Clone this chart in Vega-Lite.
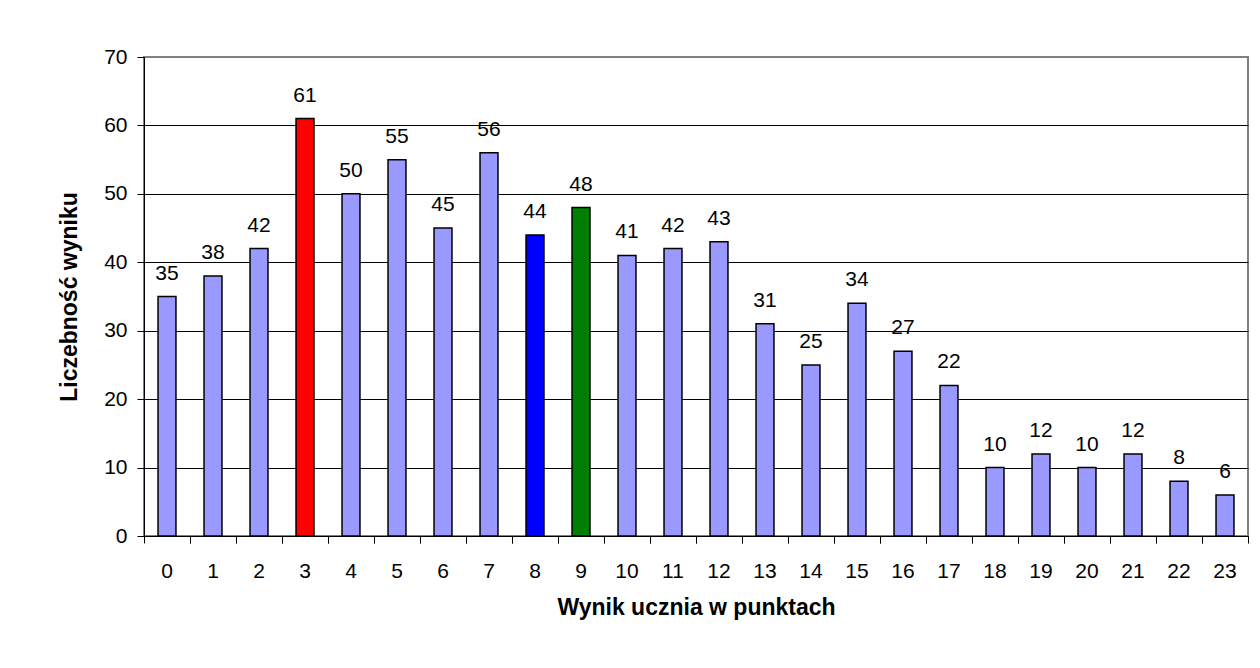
{
  "$schema": "https://vega.github.io/schema/vega-lite/v6.json",
  "width": 1104,
  "height": 479,
  "autosize": {"type": "none"},
  "padding": {"left": 144, "top": 57, "right": 12, "bottom": 132},
  "background": "white",
  "config": {
    "font": "Liberation Sans",
    "view": {"stroke": "#808080", "strokeWidth": 2},
    "axis": {"labelFont": "Liberation Sans", "titleFont": "Liberation Sans", "labelColor": "black", "titleColor": "black"}
  },
  "data": {
    "values": [
      {"wynik": 0, "liczba": 35},
      {"wynik": 1, "liczba": 38},
      {"wynik": 2, "liczba": 42},
      {"wynik": 3, "liczba": 61},
      {"wynik": 4, "liczba": 50},
      {"wynik": 5, "liczba": 55},
      {"wynik": 6, "liczba": 45},
      {"wynik": 7, "liczba": 56},
      {"wynik": 8, "liczba": 44},
      {"wynik": 9, "liczba": 48},
      {"wynik": 10, "liczba": 41},
      {"wynik": 11, "liczba": 42},
      {"wynik": 12, "liczba": 43},
      {"wynik": 13, "liczba": 31},
      {"wynik": 14, "liczba": 25},
      {"wynik": 15, "liczba": 34},
      {"wynik": 16, "liczba": 27},
      {"wynik": 17, "liczba": 22},
      {"wynik": 18, "liczba": 10},
      {"wynik": 19, "liczba": 12},
      {"wynik": 20, "liczba": 10},
      {"wynik": 21, "liczba": 12},
      {"wynik": 22, "liczba": 8},
      {"wynik": 23, "liczba": 6}
    ]
  },
  "encoding": {
    "y": {
      "field": "liczba",
      "type": "quantitative",
      "scale": {"domain": [0, 70], "nice": false},
      "axis": {
        "title": "Liczebność wyniku",
        "titleFontSize": 23,
        "titleFontWeight": "bold",
        "titlePadding": 22,
        "values": [0, 10, 20, 30, 40, 50, 60, 70],
        "labelFontSize": 21,
        "labelPadding": 10,
        "tickSize": 7,
        "tickColor": "black",
        "domainColor": "black",
        "domainWidth": 1,
        "grid": true,
        "gridColor": {"condition": {"test": "datum.value === 70", "value": "#808080"}, "value": "black"},
        "gridWidth": 1,
        "gridOpacity": 1
      }
    }
  },
  "layer": [
    {
      "mark": {"type": "bar", "width": {"band": 0.39}, "stroke": "black", "strokeWidth": 1.5},
      "encoding": {
        "x": {
          "field": "wynik",
          "type": "ordinal",
          "scale": {"paddingInner": 0, "paddingOuter": 0},
          "axis": {
            "orient": "bottom",
            "title": "Wynik ucznia w punktach",
            "titleFontSize": 23,
            "titleFontWeight": "bold",
            "titlePadding": 15,
            "labelAngle": 0,
            "labelFontSize": 21,
            "labelPadding": 24,
            "ticks": false,
            "tickSize": 0,
            "domainColor": "black",
            "domainWidth": 1,
            "grid": false
          }
        },
        "color": {
          "condition": [
            {"test": "datum.wynik === 3", "value": "#FF0000"},
            {"test": "datum.wynik === 8", "value": "#0000FF"},
            {"test": "datum.wynik === 9", "value": "#008000"}
          ],
          "value": "#9999FF"
        }
      }
    },
    {
      "mark": {"type": "text", "baseline": "alphabetic", "dy": -17, "fontSize": 21, "color": "black"},
      "encoding": {
        "x": {
          "field": "wynik",
          "type": "ordinal",
          "axis": {
            "orient": "bottom",
            "title": null,
            "bandPosition": 0,
            "labels": false,
            "domain": false,
            "ticks": true,
            "tickSize": 7,
            "tickColor": "black",
            "grid": false
          }
        },
        "text": {"field": "liczba", "type": "quantitative"}
      }
    },
    {
      "mark": {"type": "text", "opacity": 0, "fontSize": 21},
      "encoding": {
        "x": {
          "field": "wynik",
          "type": "ordinal",
          "axis": {
            "orient": "bottom",
            "title": null,
            "bandPosition": 1,
            "labels": false,
            "domain": false,
            "ticks": true,
            "tickSize": 7,
            "tickColor": "black",
            "grid": false
          }
        },
        "text": {"field": "liczba", "type": "quantitative"}
      }
    }
  ],
  "resolve": {"axis": {"x": "independent"}}
}
